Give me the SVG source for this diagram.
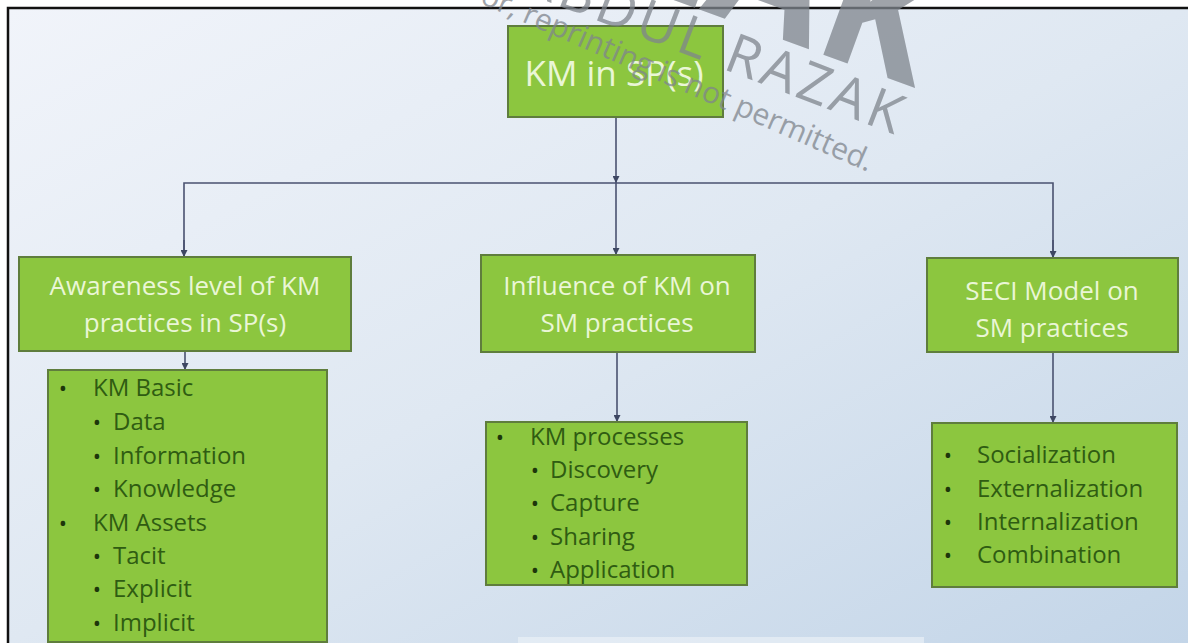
<svg xmlns="http://www.w3.org/2000/svg" width="1188" height="643" viewBox="0 0 1188 643">
  <defs>
    <linearGradient id="bg" x1="0" y1="0" x2="1" y2="1">
      <stop offset="0" stop-color="#f1f4fa"/>
      <stop offset="0.5" stop-color="#dfe8f2"/>
      <stop offset="1" stop-color="#c3d5e8"/>
    </linearGradient>
    <marker id="arrow" viewBox="0 0 8 8" refX="8" refY="4" markerWidth="7" markerHeight="7" markerUnits="userSpaceOnUse" orient="auto">
      <path d="M0,0 L8,4 L0,8 Z" fill="#3e4763"/>
    </marker>
    <style>
      .box { fill: #8cc63f; stroke: #5f7d3d; stroke-width: 2; }
      .head { font-family: "Open Sans", "Noto Sans", sans-serif; fill: #eaf6d6; text-anchor: middle; }
      .item { font-family: "Open Sans", "Noto Sans", sans-serif; font-size: 24px; fill: #2f5c12; }
      .dot { font-family: "Open Sans", "Noto Sans", sans-serif; font-size: 22px; fill: #1d360b; text-anchor: middle; }
      .link { fill: none; stroke: #4a5270; stroke-width: 1.6; }
      .wm { font-family: "Open Sans", "Noto Sans", sans-serif; fill: #7f858d; }
    </style>
  </defs>

  <!-- page and slide frame -->
  <rect x="0" y="0" width="1188" height="643" fill="#ffffff"/>
  <rect x="8" y="8" width="1180" height="635" fill="url(#bg)"/>
  <rect x="518" y="637" width="406" height="6" fill="#eef3f8" opacity="0.6"/>
  <path d="M8,643 L8,8 L1188,8" fill="none" stroke="#111111" stroke-width="2.5"/>

  <!-- connectors -->
  <g id="connectors">
    <path class="link" d="M616,117 L616,183" marker-end="url(#arrow)"/>
    <path class="link" d="M184,257 L184,183 L1053,183 L1053,258"/>
    <path class="link" d="M184,240 L184,257" marker-end="url(#arrow)"/>
    <path class="link" d="M1053,240 L1053,258" marker-end="url(#arrow)"/>
    <path class="link" d="M616,183 L616,255" marker-end="url(#arrow)"/>
    <path class="link" d="M185,351 L185,370" marker-end="url(#arrow)"/>
    <path class="link" d="M617,352 L617,422" marker-end="url(#arrow)"/>
    <path class="link" d="M1053,352 L1053,423" marker-end="url(#arrow)"/>
  </g>

  <!-- root -->
  <g id="root">
    <rect class="box" x="508" y="26" width="215" height="91"/>
    <text class="head" x="614" y="86" font-size="35">KM in SP(s)</text>
  </g>

  <!-- second level -->
  <g id="awareness">
    <rect class="box" x="19" y="257" width="332" height="94"/>
    <text class="head" x="185" y="295" font-size="26">Awareness level of KM</text>
    <text class="head" x="185" y="332" font-size="26">practices in SP(s)</text>
  </g>
  <g id="influence">
    <rect class="box" x="481" y="255" width="274" height="97"/>
    <text class="head" x="617" y="295" font-size="26">Influence of KM on</text>
    <text class="head" x="617" y="332" font-size="26">SM practices</text>
  </g>
  <g id="seci">
    <rect class="box" x="927" y="258" width="251" height="94"/>
    <text class="head" x="1052" y="300" font-size="26">SECI Model on</text>
    <text class="head" x="1052" y="337" font-size="26">SM practices</text>
  </g>

  <!-- third level -->
  <g id="awareness-items">
    <rect class="box" x="48" y="370" width="279" height="272"/>
    <text class="dot" x="63" y="396">•</text><text class="item" x="93" y="396">KM Basic</text>
    <text class="dot" x="97" y="430">•</text><text class="item" x="113" y="430">Data</text>
    <text class="dot" x="97" y="464">•</text><text class="item" x="113" y="464">Information</text>
    <text class="dot" x="97" y="497">•</text><text class="item" x="113" y="497">Knowledge</text>
    <text class="dot" x="63" y="531">•</text><text class="item" x="93" y="531">KM Assets</text>
    <text class="dot" x="97" y="564">•</text><text class="item" x="113" y="564">Tacit</text>
    <text class="dot" x="97" y="597">•</text><text class="item" x="113" y="597">Explicit</text>
    <text class="dot" x="97" y="631">•</text><text class="item" x="113" y="631">Implicit</text>
  </g>
  <g id="influence-items">
    <rect class="box" x="486" y="422" width="261" height="163"/>
    <text class="dot" x="500" y="445">•</text><text class="item" x="530" y="445">KM processes</text>
    <text class="dot" x="535" y="478">•</text><text class="item" x="550" y="478">Discovery</text>
    <text class="dot" x="535" y="511">•</text><text class="item" x="550" y="511">Capture</text>
    <text class="dot" x="535" y="545">•</text><text class="item" x="550" y="545">Sharing</text>
    <text class="dot" x="535" y="578">•</text><text class="item" x="550" y="578">Application</text>
  </g>
  <g id="seci-items">
    <rect class="box" x="932" y="423" width="245" height="164"/>
    <text class="dot" x="948" y="463">•</text><text class="item" x="977" y="463">Socialization</text>
    <text class="dot" x="948" y="497">•</text><text class="item" x="977" y="497">Externalization</text>
    <text class="dot" x="948" y="530">•</text><text class="item" x="977" y="530">Internalization</text>
    <text class="dot" x="948" y="563">•</text><text class="item" x="977" y="563">Combination</text>
  </g>

  <!-- watermark overlay -->
  <g id="watermark" opacity="0.75">
    <text class="wm" transform="translate(915,88) rotate(20)" text-anchor="end" font-size="170" font-weight="bold">RAZAK</text>
    <text class="wm" transform="translate(898,136) rotate(21)" text-anchor="end" font-size="55" letter-spacing="4">ABDUL RAZAK</text>
    <text class="wm" transform="translate(868,172) rotate(23.5)" text-anchor="end" font-size="30">or, reprinting is not permitted.</text>
  </g>
</svg>
